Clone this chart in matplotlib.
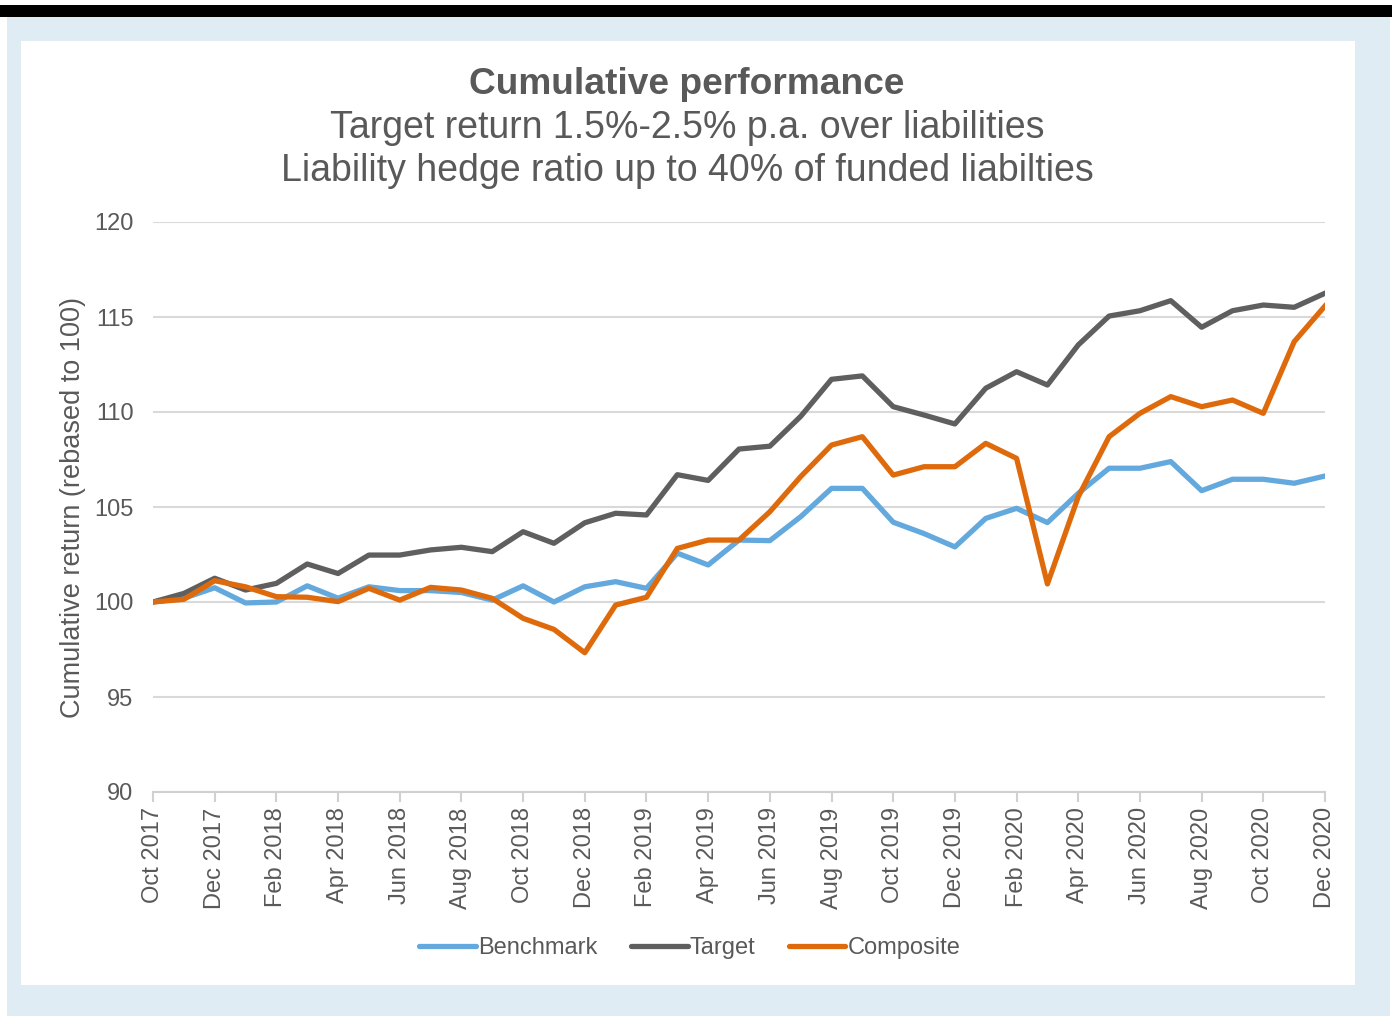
import matplotlib.pyplot as plt
from matplotlib.patches import Rectangle

months = ['Oct 2017', 'Nov 2017', 'Dec 2017', 'Jan 2018', 'Feb 2018', 'Mar 2018', 'Apr 2018',
          'May 2018', 'Jun 2018', 'Jul 2018', 'Aug 2018', 'Sep 2018', 'Oct 2018', 'Nov 2018',
          'Dec 2018', 'Jan 2019', 'Feb 2019', 'Mar 2019', 'Apr 2019', 'May 2019', 'Jun 2019',
          'Jul 2019', 'Aug 2019', 'Sep 2019', 'Oct 2019', 'Nov 2019', 'Dec 2019', 'Jan 2020',
          'Feb 2020', 'Mar 2020', 'Apr 2020', 'May 2020', 'Jun 2020', 'Jul 2020', 'Aug 2020',
          'Sep 2020', 'Oct 2020', 'Nov 2020', 'Dec 2020']

benchmark = [100.0, 100.2, 100.75, 99.95, 100.0, 100.85, 100.2, 100.8, 100.6, 100.6, 100.5,
             100.1, 100.85, 100.0, 100.8, 101.07, 100.72, 102.57, 101.95, 103.26, 103.23,
             104.49, 105.98, 105.98, 104.2, 103.6, 102.9, 104.4, 104.93, 104.18, 105.72,
             107.04, 107.04, 107.39, 105.86, 106.46, 106.46, 106.25, 106.63]

target = [100.0, 100.45, 101.25, 100.63, 100.98, 102.0, 101.5, 102.47, 102.47, 102.74, 102.88,
          102.65, 103.7, 103.09, 104.17, 104.67, 104.58, 106.7, 106.4, 108.05, 108.2, 109.77,
          111.72, 111.9, 110.28, 109.84, 109.37, 111.25, 112.12, 111.42, 113.53, 115.05,
          115.33, 115.86, 114.46, 115.33, 115.63, 115.51, 116.25]

composite = [100.0, 100.14, 101.12, 100.8, 100.28, 100.25, 100.02, 100.72, 100.1, 100.77,
             100.63, 100.19, 99.14, 98.56, 97.33, 99.84, 100.25, 102.82, 103.26, 103.26,
             104.75, 106.6, 108.26, 108.7, 106.68, 107.12, 107.12, 108.35, 107.56, 100.95,
             105.54, 108.7, 109.93, 110.81, 110.28, 110.63, 109.93, 113.7, 115.58]

text_color = '#595959'
plt.rcParams['font.family'] = ['Liberation Sans', 'DejaVu Sans']

fig = plt.figure(figsize=(13.92, 10.16), dpi=100, facecolor='white')
W, H = 1392, 1016

# page decoration: black band, light blue frame, white panel
fig.patches.append(Rectangle((0, 1 - 17 / H), 1, 12 / H, transform=fig.transFigure,
                             facecolor='black', edgecolor='none', zorder=-10))
fig.patches.append(Rectangle((7 / W, 0), 1383 / W, 1 - 17 / H, transform=fig.transFigure,
                             facecolor='#DFECF4', edgecolor='none', zorder=-10))
fig.patches.append(Rectangle((21 / W, 1 - 985 / H), 1334 / W, 944 / H, transform=fig.transFigure,
                             facecolor='white', edgecolor='none', zorder=-9))

ax = fig.add_axes([153 / W, 1 - 792 / H, 1172 / W, 570 / H])
ax.set_zorder(1)
ax.set_facecolor('none')

x = list(range(len(months)))
ax.plot(x, benchmark, color='#63A9DD', lw=3.8, label='Benchmark', solid_joinstyle='round')
ax.plot(x, target, color='#5F5F5F', lw=3.8, label='Target', solid_joinstyle='round')
ax.plot(x, composite, color='#DF6A0C', lw=3.8, label='Composite', solid_joinstyle='round')

ax.set_xlim(0, len(months) - 1)
ax.set_ylim(90, 120)
ax.set_yticks(range(90, 121, 5))
ax.set_xticks(x[::2])
ax.set_xticklabels(months[::2], rotation=90)
ax.grid(axis='y', color='#D9D9D9', lw=1.5)
ax.set_axisbelow(True)
for s in ['top', 'right', 'left']:
    ax.spines[s].set_visible(False)
ax.spines['bottom'].set_color('#D0D0D0')
ax.spines['bottom'].set_linewidth(1.5)
ax.tick_params(axis='x', colors=text_color, labelsize=17, length=7, width=1.5, color='#D0D0D0', pad=4)
ax.tick_params(axis='y', colors=text_color, labelsize=17, length=0, pad=14)
ax.set_ylabel('Cumulative return (rebased to 100)', fontsize=19.5, color=text_color, labelpad=6)

fig.text(687 / W, 1 - 84 / H, 'Cumulative performance', ha='center', va='center',
         fontsize=26.7, fontweight='bold', color=text_color)
fig.text(687 / W, 1 - 128 / H, 'Target return 1.5%-2.5% p.a. over liabilities', ha='center',
         va='center', fontsize=27, color=text_color)
fig.text(687 / W, 1 - 171 / H, 'Liability hedge ratio up to 40% of funded liabilties', ha='center',
         va='center', fontsize=27, color=text_color)

leg = fig.legend(loc='center', bbox_to_anchor=(690 / W, 1 - 948 / H), ncol=3, frameon=False,
                 fontsize=17, handlelength=2.4, handletextpad=0.1, columnspacing=1.4)
for t in leg.get_texts():
    t.set_color(text_color)
for h in leg.legend_handles:
    h.set_solid_capstyle('round')

fig.savefig('out.png', dpi=100, facecolor=fig.get_facecolor())
